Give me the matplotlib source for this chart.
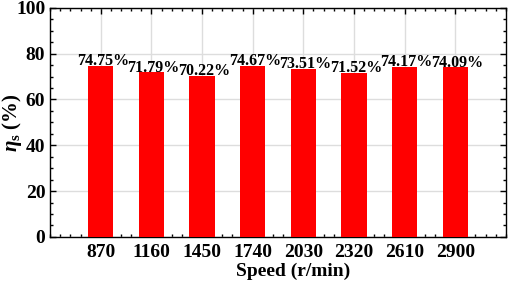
import matplotlib.pyplot as plt
from matplotlib.ticker import MultipleLocator, AutoMinorLocator

speeds = ["870", "1160", "1450", "1740", "2030", "2320", "2610", "2900"]
efficiency = [74.75, 71.79, 70.22, 74.67, 73.51, 71.52, 74.17, 74.09]

plt.rcParams["font.family"] = ["Liberation Serif", "DejaVu Serif"]
plt.rcParams["font.weight"] = "bold"
plt.rcParams["mathtext.fontset"] = "custom"
plt.rcParams["mathtext.it"] = "Liberation Serif:italic:bold"
plt.rcParams["mathtext.rm"] = "Liberation Serif:bold"


def main():
    fig = plt.figure(figsize=(5.12, 2.82), dpi=100)
    ax = fig.add_axes([0.098, 0.160, 0.890, 0.812])

    pos = list(range(1, len(speeds) + 1))
    ax.bar(pos, efficiency, width=0.5, color="#ff0000", zorder=3)
    for x, v in zip(pos, efficiency):
        ax.text(x + 0.04, v + 0.3, f"{v:.2f}%", ha="center", va="baseline",
                fontsize=11.5, fontweight="bold", zorder=4)

    ax.set_xlim(0, 9)
    ax.set_ylim(0, 100)
    ax.set_xticks(pos)
    ax.set_xticklabels(speeds)
    ax.yaxis.set_major_locator(MultipleLocator(20))
    ax.yaxis.set_minor_locator(MultipleLocator(5))
    ax.xaxis.set_minor_locator(AutoMinorLocator(5))
    ax.grid(True, color="#dddddd", lw=1, zorder=0)

    ax.tick_params(which="both", direction="in", top=True, right=True,
                   labelsize=14, width=1)
    ax.tick_params(axis="x", which="major", pad=5)
    ax.tick_params(which="major", length=4)
    ax.tick_params(which="minor", length=2)
    for s in ax.spines.values():
        s.set_linewidth(1)

    ax.set_xlabel("Speed (r/min)", fontsize=14, fontweight="bold")
    ax.xaxis.set_label_coords(0.533, -0.112)
    ax.set_ylabel(r"$\eta_{\mathrm{s}}$ (%)", fontsize=15, fontweight="bold")
    ax.yaxis.set_label_coords(-0.058, 0.5)

    fig.savefig("out.png", dpi=100)


main()
